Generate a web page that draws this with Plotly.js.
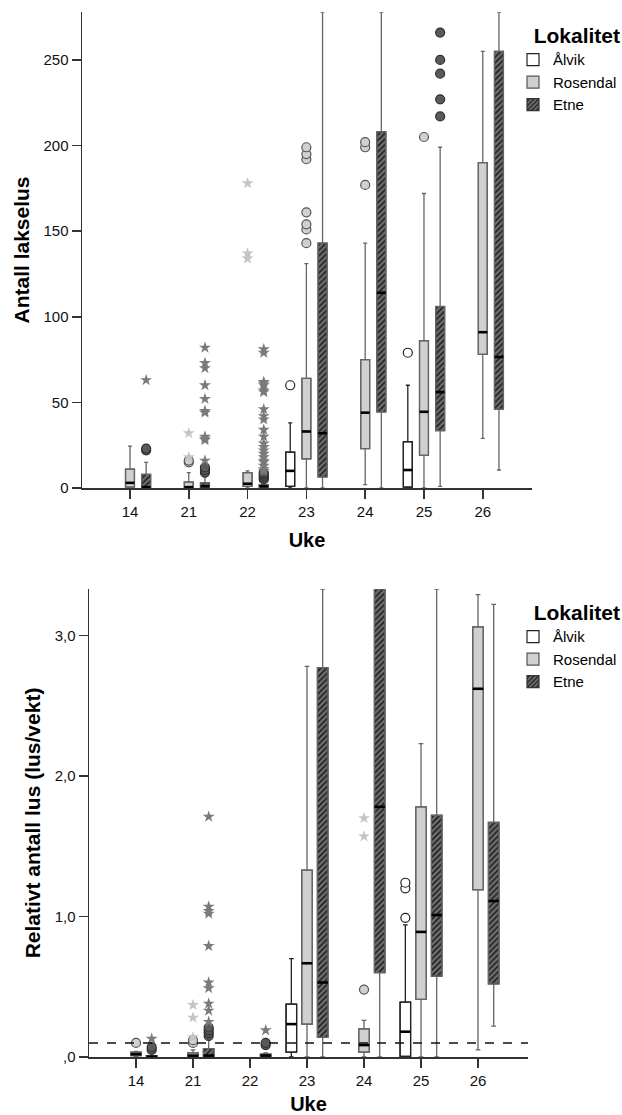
<!DOCTYPE html>
<html><head><meta charset="utf-8">
<script src="https://cdn.plot.ly/plotly-3.0.1.min.js"></script>
<style>html,body{margin:0;padding:0;background:#fff}#chart{width:622px;height:1115px}</style>
</head><body><div id="chart"></div>
<script>
// ---------- shared categories ----------
const weeks = ['14','21','22','23','24','25','26'];
const seriesNames = ['Ålvik','Rosendal','Etne'];

// ---------- TOP: Antall lakselus ----------
const countTicks = [0, 50, 100, 150, 200, 250];

const alvikCountWeek = ['23','25'];
const alvikCountLo   = [0, 0];
const alvikCountQ1   = [1, 0.5];
const alvikCountMed  = [10, 10.5];
const alvikCountQ3   = [21, 27];
const alvikCountHi   = [38, 60];

const rosCountWeek = ['14','21','22','23','24','25','26'];
const rosCountLo   = [0, 0, 0, 0, 2, 0, 29];
const rosCountQ1   = [0.5, 0, 1, 17, 23, 19, 78];
const rosCountMed  = [3, 0.5, 2.5, 33, 44, 44.5, 91];
const rosCountQ3   = [11, 3.5, 9, 64, 75, 86, 190];
const rosCountHi   = [24.5, 9, 10, 131, 143, 172, 255];

const etneCountWeek = ['14','21','22','23','24','25','26'];
const etneCountLo   = [0, 0, 0, 0, 0, 1, 10.5];
const etneCountQ1   = [0, 0, 0, 6.5, 44.5, 33.5, 46];
const etneCountMed  = [0.5, 1, 1, 32, 114, 56, 76.5];
const etneCountQ3   = [8, 3, 2, 143, 208, 106, 255];
const etneCountHi   = [15, 6.5, 3, 278, 278, 199, 278];

// outliers (circles) and extremes (stars)
const alvikCountCircleWeek = ['23','25'];
const alvikCountCircleVal  = [60, 79];
const rosCountCircleWeek = ['21','21','23','23','23','23','23','23','23','24','24','24','25'];
const rosCountCircleVal  = [15, 16, 143, 151, 154, 161, 192, 195, 199, 177, 199, 202, 205];
const rosCountStarWeek = ['21','21','22','22','22'];
const rosCountStarVal  = [18, 32, 134, 137, 178];
const etneCountCircleWeek = ['14','14','21','21','21','22','22','22','22','22','25','25','25','25','25'];
const etneCountCircleVal  = [22, 23, 9, 10.5, 12, 5, 6, 7, 8, 9, 217, 227, 242, 250, 266];
const etneCountStarWeek = ['14',
  '21','21','21','21','21','21','21','21','21','21','21',
  '22','22','22','22','22','22','22','22','22','22','22','22','22','22','22','22','22','22','22','22','22','22'];
const etneCountStarVal  = [63,
  16, 28, 29, 30, 44, 45, 52, 60, 70, 73, 82,
  10, 11, 13, 15, 16, 18, 20, 22, 24, 26, 30, 34, 40, 42, 46, 56, 57, 60, 61, 62, 79, 81];

// ---------- BOTTOM: Relativt antall lus ----------
const relTicks = [0, 1, 2, 3];
const relTickText = [',0', '1,0', '2,0', '3,0'];
const relThreshold = 0.1;

const alvikRelWeek = ['23','25'];
const alvikRelLo   = [0, 0];
const alvikRelQ1   = [0.035, 0.005];
const alvikRelMed  = [0.234, 0.18];
const alvikRelQ3   = [0.376, 0.39];
const alvikRelHi   = [0.70, 0.94];

const rosRelWeek = ['14','21','23','24','25','26'];
const rosRelLo   = [0, 0, 0, 0, 0, 0.05];
const rosRelQ1   = [0.01, 0, 0.234, 0.035, 0.41, 1.19];
const rosRelMed  = [0.02, 0.01, 0.667, 0.085, 0.89, 2.62];
const rosRelQ3   = [0.035, 0.03, 1.33, 0.2, 1.78, 3.06];
const rosRelHi   = [0.04, 0.05, 2.78, 0.26, 2.23, 3.29];

const etneRelWeek = ['14','21','22','23','24','25','26'];
const etneRelLo   = [0, 0, 0, 0, 0, 0, 0.22];
const etneRelQ1   = [0, 0, 0, 0.142, 0.60, 0.575, 0.52];
const etneRelMed  = [0.003, 0.01, 0.01, 0.53, 1.78, 1.01, 1.11];
const etneRelQ3   = [0.01, 0.06, 0.02, 2.77, 3.33, 1.72, 1.67];
const etneRelHi   = [0.01, 0.12, 0.03, 3.33, 3.33, 3.33, 3.22];

const alvikRelCircleWeek = ['25','25','25'];
const alvikRelCircleVal  = [0.99, 1.20, 1.24];
const rosRelCircleWeek = ['14','21','21','24'];
const rosRelCircleVal  = [0.10, 0.10, 0.12, 0.48];
const rosRelStarWeek = ['21','21','21','24','24'];
const rosRelStarVal  = [0.14, 0.28, 0.37, 1.57, 1.70];
const etneRelCircleWeek = ['14','14','21','21','21','21','22','22'];
const etneRelCircleVal  = [0.05, 0.07, 0.15, 0.17, 0.19, 0.21, 0.085, 0.10];
const etneRelStarWeek = ['14','21','21','21','21','21','21','21','21','21','21','22'];
const etneRelStarVal  = [0.13, 0.25, 0.33, 0.38, 0.49, 0.53, 0.79, 1.02, 1.04, 1.07, 1.71, 0.19];

// ---------- styling ----------
const FONT = 'Liberation Sans, Arial, sans-serif';
const OFFSET = 0.275;
const offsets = {'Ålvik': -OFFSET, 'Rosendal': 0, 'Etne': OFFSET};
const styles = {
  'Ålvik':    {fill: '#ffffff', line: '#222222', whisk: '#222222', circleFill: '#ffffff', circleLine: '#222222'},
  'Rosendal': {fill: '#d0d0d0', line: '#555555', whisk: '#666666', circleFill: '#d0d0d0', circleLine: '#555555', star: '#c4c4c4'},
  'Etne':     {fill: '#666666', line: '#333333', whisk: '#666666', circleFill: '#5a5a5a', circleLine: '#2e2e2e', star: '#7a7a7a'}
};

function pos(weekArr, name) { return weekArr.map(w => weeks.indexOf(w) + offsets[name]); }

function boxSet(name, weekArr, lo, q1, med, q3, hi, xa, ya, W, legendId) {
  const st = styles[name];
  const xs = pos(weekArr, name);
  const out = [];
  const bar = {
    type: 'bar', name: name, x: xs, base: q1, y: q3.map((v, i) => v - q1[i]), width: W,
    xaxis: xa, yaxis: ya, legend: legendId, hoverinfo: 'skip',
    marker: {color: st.fill, line: {color: st.line, width: 1.2}}
  };
  if (name === 'Etne') {
    bar.marker.pattern = {shape: '/', fgcolor: '#1e1e1e', bgcolor: '#707070', size: 4, solidity: 0.4, fillmode: 'replace'};
  }
  out.push(bar);
  out.push({
    type: 'box', x: xs, q1: q1, median: med, q3: q3, lowerfence: lo, upperfence: hi,
    width: W, whiskerwidth: 0.45, boxpoints: false, fillcolor: 'rgba(0,0,0,0)',
    line: {color: st.whisk, width: 1.3}, xaxis: xa, yaxis: ya, showlegend: false, hoverinfo: 'skip'
  });
  const mx = [], my = [];
  xs.forEach((x, i) => { mx.push(x - W / 2, x + W / 2, null); my.push(med[i], med[i], null); });
  out.push({type: 'scatter', mode: 'lines', x: mx, y: my, line: {color: '#000', width: 2.6},
    xaxis: xa, yaxis: ya, showlegend: false, hoverinfo: 'skip'});
  return out;
}

function pts(name, weekArr, vals, kind, xa, ya) {
  const st = styles[name];
  const marker = kind === 'circle'
    ? {symbol: 'circle', size: 9, color: st.circleFill, line: {color: st.circleLine, width: 1.2}}
    : {symbol: 'star', size: 9, color: st.star, line: {width: 0}};
  return {type: 'scatter', mode: 'markers', x: pos(weekArr, name), y: vals, marker: marker,
    xaxis: xa, yaxis: ya, showlegend: false, hoverinfo: 'skip', cliponaxis: false};
}

const WT = 0.152, WB = 0.185;
const data = [].concat(
  boxSet('Ålvik', alvikCountWeek, alvikCountLo, alvikCountQ1, alvikCountMed, alvikCountQ3, alvikCountHi, 'x', 'y', WT, 'legend'),
  boxSet('Rosendal', rosCountWeek, rosCountLo, rosCountQ1, rosCountMed, rosCountQ3, rosCountHi, 'x', 'y', WT, 'legend'),
  boxSet('Etne', etneCountWeek, etneCountLo, etneCountQ1, etneCountMed, etneCountQ3, etneCountHi, 'x', 'y', WT, 'legend'),
  [pts('Ålvik', alvikCountCircleWeek, alvikCountCircleVal, 'circle', 'x', 'y'),
   pts('Rosendal', rosCountCircleWeek, rosCountCircleVal, 'circle', 'x', 'y'),
   pts('Rosendal', rosCountStarWeek, rosCountStarVal, 'star', 'x', 'y'),
   pts('Etne', etneCountCircleWeek, etneCountCircleVal, 'circle', 'x', 'y'),
   pts('Etne', etneCountStarWeek, etneCountStarVal, 'star', 'x', 'y')],
  boxSet('Ålvik', alvikRelWeek, alvikRelLo, alvikRelQ1, alvikRelMed, alvikRelQ3, alvikRelHi, 'x2', 'y2', WB, 'legend2'),
  boxSet('Rosendal', rosRelWeek, rosRelLo, rosRelQ1, rosRelMed, rosRelQ3, rosRelHi, 'x2', 'y2', WB, 'legend2'),
  boxSet('Etne', etneRelWeek, etneRelLo, etneRelQ1, etneRelMed, etneRelQ3, etneRelHi, 'x2', 'y2', WB, 'legend2'),
  [pts('Ålvik', alvikRelCircleWeek, alvikRelCircleVal, 'circle', 'x2', 'y2'),
   pts('Rosendal', rosRelCircleWeek, rosRelCircleVal, 'circle', 'x2', 'y2'),
   pts('Rosendal', rosRelStarWeek, rosRelStarVal, 'star', 'x2', 'y2'),
   pts('Etne', etneRelCircleWeek, etneRelCircleVal, 'circle', 'x2', 'y2'),
   pts('Etne', etneRelStarWeek, etneRelStarVal, 'star', 'x2', 'y2')]
);

const W = 622, H = 1115;
const px = v => v / W, py = v => 1 - v / H;
const axisCommon = {
  showline: true, linecolor: '#333', linewidth: 1.5, ticks: 'outside', ticklen: 9, tickwidth: 1.5,
  tickcolor: '#333', showgrid: false, zeroline: false, tickfont: {size: 15, color: '#111', family: FONT}
};
const titleFont = {size: 20, color: '#000', family: FONT, weight: 'bold'};
const yTitleFont = {size: 21, color: '#000', family: FONT, weight: 'bold'};
const legTitleFont = {size: 21, color: '#000', family: FONT, weight: 'bold'};
const idx = weeks.map((w, i) => i);

const layout = {
  width: W, height: H, margin: {l: 0, r: 0, t: 0, b: 0},
  paper_bgcolor: '#fff', plot_bgcolor: '#fff', font: {family: FONT, color: '#000'},
  barmode: 'overlay', showlegend: true,
  xaxis: Object.assign({}, axisCommon, {domain: [px(82), px(532)], range: [-0.816, 6.837], anchor: 'y',
    tickmode: 'array', tickvals: idx, ticktext: weeks, title: {text: 'Uke', font: titleFont, standoff: 14}}),
  yaxis: Object.assign({}, axisCommon, {domain: [py(488), py(12)], range: [0, 278], anchor: 'x',
    tickmode: 'array', tickvals: countTicks, title: {text: 'Antall lakselus', font: yTitleFont, standoff: 8}}),
  xaxis2: Object.assign({}, axisCommon, {domain: [px(89), px(528)], range: [-0.825, 6.877], anchor: 'y2',
    tickmode: 'array', tickvals: idx, ticktext: weeks, title: {text: 'Uke', font: titleFont, standoff: 20}}),
  yaxis2: Object.assign({}, axisCommon, {domain: [py(1057), py(589)], range: [0, 3.33], anchor: 'x2',
    tickmode: 'array', tickvals: relTicks, ticktext: relTickText,
    title: {text: 'Relativt antall lus (lus/vekt)', font: yTitleFont, standoff: 8}}),
  legend: {x: 1, y: py(16), xanchor: 'right', yanchor: 'top', bgcolor: 'rgba(0,0,0,0)',
    font: {size: 15, family: FONT}, title: {text: 'Lokalitet', font: legTitleFont, side: 'top right'}, tracegroupgap: 0},
  legend2: {x: 1, y: py(593), xanchor: 'right', yanchor: 'top', bgcolor: 'rgba(0,0,0,0)',
    font: {size: 15, family: FONT}, title: {text: 'Lokalitet', font: legTitleFont, side: 'top right'}, tracegroupgap: 0},
  shapes: [{type: 'line', xref: 'x2 domain', x0: 0, x1: 1, yref: 'y2', y0: relThreshold, y1: relThreshold,
    line: {color: '#111', width: 1.5, dash: 'dash'}}]
};

Plotly.newPlot('chart', data, layout, {displayModeBar: false, staticPlot: true});
</script></body></html>
